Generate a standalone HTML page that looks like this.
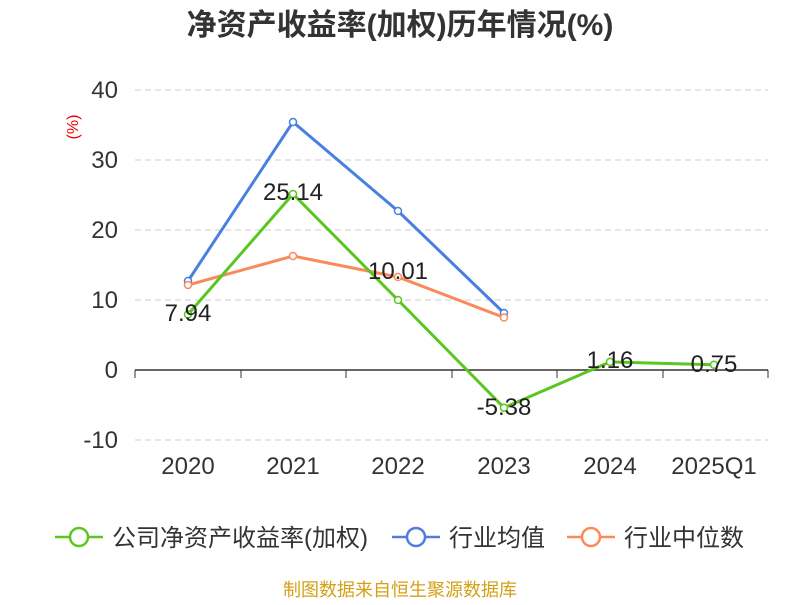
<!DOCTYPE html>
<html><head><meta charset="utf-8"><style>
body{margin:0;background:#fff;}
svg text{font-family:"Liberation Sans","Noto Sans CJK SC",sans-serif;}
</style></head><body>
<svg width="800" height="600" xmlns="http://www.w3.org/2000/svg">
<text x="400" y="35" text-anchor="middle" font-size="30" font-weight="bold" fill="#333">净资产收益率(加权)历年情况(%)</text>
<text x="78" y="127" font-size="16" fill="#e00" text-anchor="middle" transform="rotate(-90 78 127)">(%)</text>
<g stroke="#ccc" stroke-dasharray="6,4" stroke-width="1">
<line x1="135" y1="90" x2="768" y2="90"/><line x1="135" y1="160" x2="768" y2="160"/>
<line x1="135" y1="230" x2="768" y2="230"/><line x1="135" y1="300" x2="768" y2="300"/>
<line x1="135" y1="440" x2="768" y2="440"/>
</g>
<line x1="135" y1="370" x2="768" y2="370" stroke="#333" stroke-width="1.5"/>
<g stroke="#333"><line x1="135" y1="370" x2="135" y2="378"/><line x1="241" y1="370" x2="241" y2="378"/><line x1="346" y1="370" x2="346" y2="378"/><line x1="452" y1="370" x2="452" y2="378"/><line x1="557" y1="370" x2="557" y2="378"/><line x1="663" y1="370" x2="663" y2="378"/><line x1="768" y1="370" x2="768" y2="378"/></g>
<g font-size="24" fill="#333" text-anchor="end">
<text x="118" y="98">40</text><text x="118" y="168">30</text><text x="118" y="238">20</text><text x="118" y="308">10</text><text x="118" y="378">0</text><text x="118" y="448">-10</text>
</g>
<g font-size="24" fill="#333" text-anchor="middle">
<text x="188" y="474">2020</text><text x="293" y="474">2021</text><text x="398" y="474">2022</text><text x="504" y="474">2023</text><text x="610" y="474">2024</text><text x="714" y="474">2025Q1</text>
</g>
<g fill="none" stroke-width="3">
<polyline stroke="#4a7fe0" points="188,281 293,122 398,211 504,313"/>
<polyline stroke="#fb8a5b" points="188,285 293,256 398,277 504,317.5"/>
<polyline stroke="#5cc620" points="188,314.4 293,194 398,300 504,407.7 610,361.9 714,364.75"/>
</g>
<g fill="#fff" stroke-width="1.5">
<g stroke="#4a7fe0"><circle cx="188" cy="281" r="3.5"/><circle cx="293" cy="122" r="3.5"/><circle cx="398" cy="211" r="3.5"/><circle cx="504" cy="313" r="3.5"/></g>
<g stroke="#fb8a5b"><circle cx="188" cy="285" r="3.5"/><circle cx="293" cy="256" r="3.5"/><circle cx="398" cy="277" r="3.5"/><circle cx="504" cy="317.5" r="3.5"/></g>
<g stroke="#5cc620"><circle cx="188" cy="314.4" r="3.5"/><circle cx="293" cy="194" r="3.5"/><circle cx="398" cy="300" r="3.5"/><circle cx="504" cy="407.7" r="3.5"/><circle cx="610" cy="361.9" r="3.5"/><circle cx="714" cy="364.75" r="3.5"/></g>
</g>
<g font-size="24" fill="#222" text-anchor="middle">
<text x="188" y="321">7.94</text><text x="293" y="200">25.14</text><text x="398" y="279">10.01</text><text x="504" y="415">-5.38</text><text x="610" y="368">1.16</text><text x="714" y="372">0.75</text>
</g>
<g stroke-width="2.5" fill="#fff">
<line x1="55" y1="537" x2="103" y2="537" stroke="#5cc620"/><circle cx="79" cy="537" r="9" stroke="#5cc620"/>
<line x1="392" y1="537" x2="440" y2="537" stroke="#4a7fe0"/><circle cx="416" cy="537" r="9" stroke="#4a7fe0"/>
<line x1="567" y1="537" x2="615" y2="537" stroke="#fb8a5b"/><circle cx="591" cy="537" r="9" stroke="#fb8a5b"/>
</g>
<g font-size="24" fill="#333">
<text x="112" y="546">公司净资产收益率(加权)</text><text x="449" y="546">行业均值</text><text x="624" y="546">行业中位数</text>
</g>
<text x="400" y="596" text-anchor="middle" font-size="18" fill="#d4a017">制图数据来自恒生聚源数据库</text>
</svg>
</body></html>
